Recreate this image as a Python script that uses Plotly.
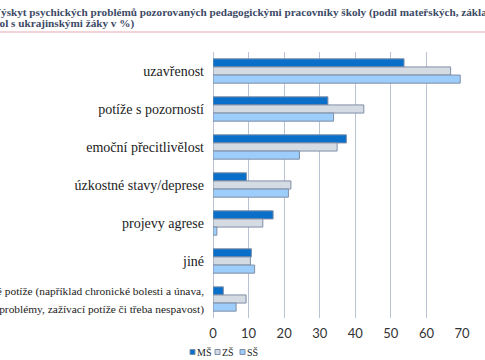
import plotly.graph_objects as go

categories = [
    "uzavřenost",
    "potíže s pozorností",
    "emoční přecitlivělost",
    "úzkostné stavy/deprese",
    "projevy agrese",
    "jiné",
    "psychosomatické potíže (například chronické bolesti a únava,<br>žaludeční problémy, zažívací potíže či třeba nespavost)",
]
ms_values = [53.7, 32.3, 37.5, 9.4, 16.9, 10.8, 2.9]
zs_values = [66.8, 42.4, 34.9, 21.9, 14.0, 10.5, 9.3]
ss_values = [69.5, 33.9, 24.3, 21.2, 1.1, 11.7, 6.5]
x_ticks = [0, 10, 20, 30, 40, 50, 60, 70]
series_names = ["MŠ", "ZŠ", "SŠ"]

title_line1 = "Výskyt psychických problémů pozorovaných pedagogickými pracovníky školy (podíl mateřských, základních a středních"
title_line2 = "škol s ukrajinskými žáky v %)"

colors = ["#0a6fc8", "#d5dbe3", "#9dcdfb"]
outline = "#7f8ea6"

# display labels (last, long label a bit smaller, as in the source)
tick_text = categories[:-1] + ['<span style="font-size:11.4px">' + categories[-1] + '</span>']

fig = go.Figure()
for name, vals, color in zip(series_names, [ms_values, zs_values, ss_values], colors):
    fig.add_trace(go.Bar(
        y=categories, x=vals, name=name, orientation="h",
        marker=dict(color=color, line=dict(color=outline, width=1)),
    ))

W, H = 485, 360
L, R, T, B = 213, 23, 52, 42
pw = W - L - R
ph = H - T - B

def px_to_paper_x(px):
    return (px - L) / pw

def py_to_paper_y(py):
    return (H - B - py) / ph

serif = "Liberation Serif"
fig.update_layout(
    width=W, height=H,
    margin=dict(l=L, r=R, t=T, b=B, autoexpand=False),
    paper_bgcolor="white", plot_bgcolor="white",
    barmode="group", bargap=0.36, bargroupgap=0.0,
    showlegend=False,
    xaxis=dict(
        range=[0, 70], tickvals=x_ticks, showgrid=True,
        gridcolor="#b9c3d3", gridwidth=1, zeroline=True,
        zerolinecolor="#b9c3d3", zerolinewidth=1, showline=False,
        tickfont=dict(family="Lato", size=13, color="#333"),
        fixedrange=True, ticks="", ticklabelstandoff=6,
    ),
    yaxis=dict(
        autorange="reversed", showgrid=False, zeroline=False,
        tickmode="array", tickvals=categories, ticktext=tick_text,
        tickfont=dict(family=serif, size=14, color="#222"),
        ticks="", ticklabelstandoff=8, automargin=False, fixedrange=True,
    ),
    font=dict(family=serif),
)

fig.add_annotation(
    xref="paper", yref="paper", x=px_to_paper_x(-9), y=py_to_paper_y(12),
    xanchor="left", yanchor="middle", showarrow=False,
    text="<b>" + title_line1 + "</b>",
    font=dict(family=serif, size=11.2, color="#3d4a66"),
)
fig.add_annotation(
    xref="paper", yref="paper", x=px_to_paper_x(-13), y=py_to_paper_y(24),
    xanchor="left", yanchor="middle", showarrow=False,
    text="<b>" + title_line2 + "</b>",
    font=dict(family=serif, size=11.2, color="#3d4a66"),
)
fig.add_shape(
    type="line", xref="paper", yref="paper",
    x0=px_to_paper_x(0), x1=px_to_paper_x(W), y0=py_to_paper_y(32), y1=py_to_paper_y(32),
    line=dict(color="#f2d3d8", width=2),
)

# manual legend
legend_x = [190, 215, 240]
ly = 352
for name, color, lx in zip(series_names, colors, legend_x):
    fig.add_shape(
        type="rect", xref="paper", yref="paper",
        x0=px_to_paper_x(lx), x1=px_to_paper_x(lx + 5),
        y0=py_to_paper_y(ly + 2.5), y1=py_to_paper_y(ly - 2.5),
        fillcolor=color, line=dict(color=outline, width=1),
    )
    fig.add_annotation(
        xref="paper", yref="paper", x=px_to_paper_x(lx + 5), y=py_to_paper_y(ly),
        xanchor="left", yanchor="middle", showarrow=False, text=name,
        font=dict(family=serif, size=10, color="#222"),
    )

fig.write_html("out.html", config={"displayModeBar": False},
               post_script="document.body.style.margin='0';")
